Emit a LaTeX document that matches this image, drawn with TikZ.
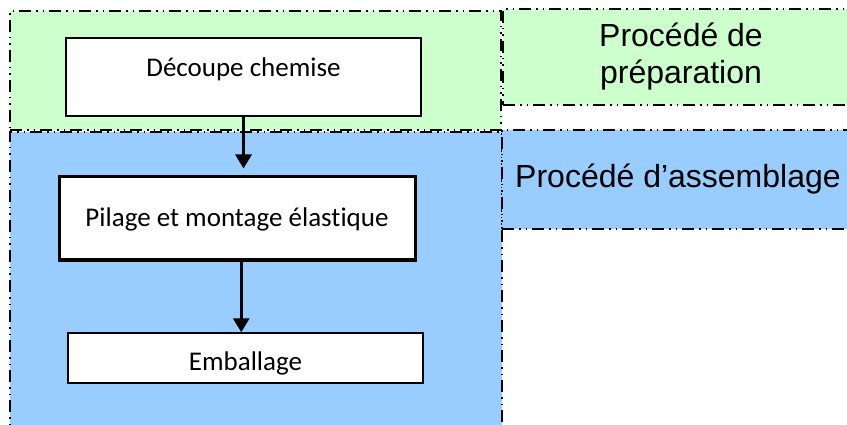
\documentclass[tikz,border=0pt]{standalone}
\usepackage{fontspec}
\setmainfont[Ligatures=CommonOff]{Carlito}
\newfontfamily\labelfont{Liberation Sans}
\usetikzlibrary{arrows.meta,calc}

\definecolor{prepgreen}{HTML}{CCFFCC}
\definecolor{assemblue}{HTML}{99CCFF}

\tikzset{
  zone/.style={draw=black, line width=1.4pt,
    dash pattern=on 12pt off 5pt on 1.5pt off 5pt on 1.5pt off 5pt,
    inner sep=0pt, outer sep=0pt, rectangle},
  zonelabel/.style={zone, font=\labelfont\fontsize{32}{37}\selectfont,
    align=center},
  stepbox/.style={draw=black, fill=white, line width=1.5pt, rectangle,
    inner sep=0pt, font=\fontsize{27}{32}\selectfont},
  flow/.style={line width=3pt, -{Triangle[width=16pt,length=14pt]}},
}

\begin{document}
\begin{tikzpicture}[x=1pt,y=-1pt]
  \useasboundingbox (0,0) rectangle (847,425);
  \clip (0,0) rectangle (847,425);

  % process zones
  \node[zone, fill=prepgreen, minimum width=491pt, minimum height=119pt]
    (prepzone) at (255.5,70.5) {};
  \node[zone, fill=assemblue, minimum width=492pt, minimum height=308pt]
    (asmzone) at (256,286) {};

  % zone captions
  \node[zonelabel, fill=prepgreen, minimum width=356pt, minimum height=96pt]
    (preplabel) at (681,57) {Procédé de\\préparation};
  \node[zonelabel, fill=assemblue, minimum width=352pt, minimum height=99pt]
    (asmlabel) at (678,179.5) {Procédé d’assemblage};

  % process steps (text height/depth set the baseline inside each box)
  \node[stepbox, minimum width=355pt, minimum height=78pt,
        text height=10pt, text depth=10pt]
    (dec) at (243.5,77) {Découpe chemise};
  \node[stepbox, line width=3pt, minimum width=356pt, minimum height=83pt,
        text height=22pt, text depth=5pt]
    (pil) at (237,218.5) {Pilage et montage élastique};
  \node[stepbox, minimum width=355pt, minimum height=50pt,
        text height=24pt, text depth=0pt]
    (emb) at (245.5,358) {Emballage};

  % flow between steps
  \draw[flow, shorten >=7pt] (dec.south) -- (dec.south |- pil.north);
  \coordinate (m2) at ($(pil.south)!0.5!(emb.north)$);
  \draw[flow] (pil.south -| m2) -- (emb.north -| m2);
\end{tikzpicture}
\end{document}
